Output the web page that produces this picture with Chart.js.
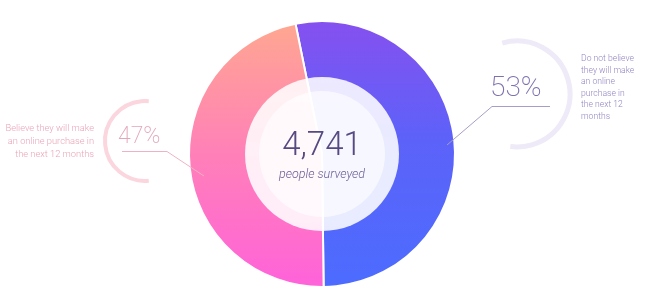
<!DOCTYPE html>
<html>
<head>
<meta charset="utf-8">
<script src="https://cdn.jsdelivr.net/npm/chart.js@4"></script>
<style>
  html, body { margin: 0; padding: 0; background: #fff; }
  #wrap { position: relative; width: 650px; height: 300px; }
</style>
</head>
<body>
<div id="wrap"><canvas id="donut" width="650" height="300"></canvas></div>
<script>
// data
const labels = ['Do not believe they will make an online purchase in the next 12 months',
                'Believe they will make an online purchase in the next 12 months'];
const shares = [53, 47];
const totalSurveyed = '4,741';
const totalCaption = 'people surveyed';
const rightNote = ['Do not believe', 'they will make', 'an online', 'purchase in', 'the next 12', 'months'];
const leftNote = ['Believe they will make', 'an online purchase in', 'the next 12 months'];

const FONT = 'Roboto, "Open Sans", sans-serif';

function segGradient(ctx, area, idx) {
    if (!area) return idx === 0 ? '#5a62fa' : '#ff80b8';
    let g = ctx.createLinearGradient(0, area.top, 0, area.bottom);
    if (idx === 0) {
        g.addColorStop(0, '#8650ef');
        g.addColorStop(0.45, '#5c62f9');
        g.addColorStop(1, '#4c6cff');
    } else {
        g.addColorStop(0, '#ffa890');
        g.addColorStop(0.5, '#ff80b8');
        g.addColorStop(1, '#ff62da');
    }
    return g;
}

// centre disc, callouts and texts
const decor = {
    id: 'decor',
    afterDatasetsDraw(chart) {
        const ctx = chart.ctx;
        const arc = chart.getDatasetMeta(0).data[0];
        const cx = arc.x, cy = arc.y;
        ctx.save();

        // translucent centre
        ctx.beginPath();
        ctx.arc(cx, cy, 77, 0, Math.PI * 2);
        ctx.fillStyle = 'rgba(255,255,255,0.87)';
        ctx.fill();
        ctx.beginPath();
        ctx.arc(cx, cy, 63, 0, Math.PI * 2);
        ctx.fillStyle = 'rgba(255,255,255,0.62)';
        ctx.fill();

        ctx.textAlign = 'center';
        ctx.textBaseline = 'alphabetic';
        ctx.fillStyle = '#574a82';
        ctx.font = '300 33px ' + FONT;
        ctx.fillText(totalSurveyed, cx, cy + 1);
        ctx.fillStyle = '#6c5d96';
        ctx.font = 'italic 300 12.5px ' + FONT;
        ctx.fillText(totalCaption, cx, cy + 24);

        // left callout
        ctx.lineWidth = 4;
        ctx.strokeStyle = '#fbd6de';
        ctx.beginPath();
        ctx.arc(145, 141, 40, Math.PI * 0.47, Math.PI * 1.53);
        ctx.stroke();

        ctx.lineWidth = 1;
        ctx.strokeStyle = '#eeb3c3';
        ctx.beginPath();
        ctx.moveTo(122, 151.5);
        ctx.lineTo(167, 151.5);
        ctx.lineTo(204, 176);
        ctx.stroke();

        ctx.fillStyle = '#e2a6ba';
        ctx.font = '200 23px ' + FONT;
        ctx.textAlign = 'left';
        ctx.fillText(shares[1] + '%', 118, 143);

        ctx.fillStyle = '#eaa4b8';
        ctx.font = '300 9.3px ' + FONT;
        ctx.textAlign = 'right';
        leftNote.forEach((t, i) => ctx.fillText(t, 94, 131 + i * 13));

        // right callout
        ctx.lineWidth = 5;
        ctx.strokeStyle = '#eeeaf8';
        ctx.beginPath();
        ctx.arc(517, 94, 53, -Math.PI * 0.59, Math.PI * 0.54);
        ctx.stroke();

        ctx.lineWidth = 1;
        ctx.strokeStyle = '#a79dc6';
        ctx.beginPath();
        ctx.moveTo(550, 106.5);
        ctx.lineTo(492, 106.5);
        ctx.lineTo(447, 145);
        ctx.stroke();

        ctx.fillStyle = '#7f70b0';
        ctx.font = '200 28px ' + FONT;
        ctx.textAlign = 'left';
        ctx.fillText(shares[0] + '%', 490, 96);

        ctx.fillStyle = '#9385c2';
        ctx.font = '300 8.6px ' + FONT;
        rightNote.forEach((t, i) => ctx.fillText(t, 581, 61 + i * 11.6));

        ctx.restore();
    }
};

new Chart(document.getElementById('donut'), {
    type: 'doughnut',
    data: {
        labels: labels,
        datasets: [{
            data: shares,
            backgroundColor: (c) => segGradient(c.chart.ctx, c.chart.chartArea, c.dataIndex),
            borderColor: '#ffffff',
            borderWidth: 2,
            hoverOffset: 0
        }]
    },
    options: {
        responsive: false,
        animation: false,
        cutout: '0%',
        rotation: -11.5,
        layout: { padding: { left: 188, right: 194, top: 20, bottom: 12 } },
        plugins: {
            legend: { display: false },
            tooltip: { enabled: false }
        }
    },
    plugins: [decor]
});
</script>
</body>
</html>
